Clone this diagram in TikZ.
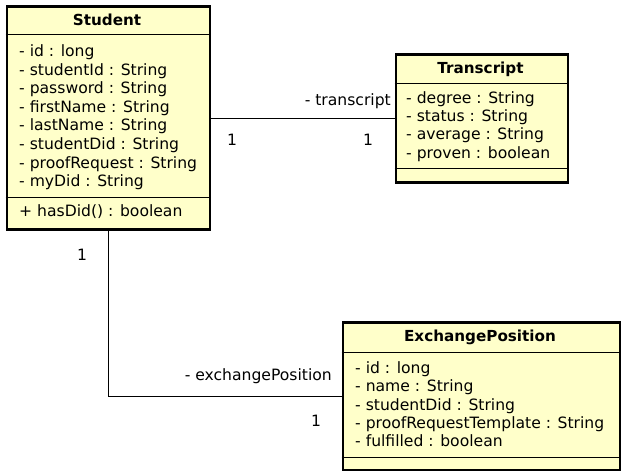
\documentclass[tikz,border=0pt]{standalone}
\usepackage{fontspec}
\setmainfont{DejaVu Sans}
\definecolor{umlfill}{HTML}{FFFFCA}
\tikzset{
  cls/.style={draw=black, line width=2.8pt, fill=umlfill, inner sep=0pt, anchor=north west},
  sep/.style={draw=black, line width=0.9pt},
  attr/.style={anchor=base west, inner sep=0pt, font=\fontsize{15.6}{18}\selectfont},
  ctitle/.style={anchor=base, inner sep=0pt, font=\fontsize{15.2}{18}\selectfont\bfseries},
  lbl/.style={inner sep=0pt, font=\fontsize{15.6}{18}\selectfont},
  assoc/.style={draw=black, line width=0.9pt}
}
\begin{document}
\begin{tikzpicture}[x=1pt,y=-1pt]
\useasboundingbox (0,0) rectangle (625,476);
% Student
\node[cls, minimum width=203pt, minimum height=223pt] (student) at (5.5,5.5) {};
\draw[sep] (5.5,34) -- (208.5,34);
\draw[sep] (5.5,197) -- (208.5,197);
\node[ctitle] (stitle) at (107,26) {Student};
\foreach \t [count=\i from 0] in {{- id : long},{- studentId : String},{- password : String},{- firstName : String},{- lastName : String},{- studentDid : String},{- proofRequest : String},{- myDid : String}}
  \node[attr] (sa\i) at (19,56.5+18.6*\i) {\t};
\node[attr] (sm0) at (19,216.5) {+ hasDid() : boolean};
% Transcript
\node[cls, minimum width=172pt, minimum height=128pt] (transcript) at (394.5,53.5) {};
\draw[sep] (394.5,83) -- (566.5,83);
\draw[sep] (394.5,168) -- (566.5,168);
\node[ctitle] (ttitle) at (480.5,73.3) {Transcript};
\foreach \t [count=\i from 0] in {{- degree : String},{- status : String},{- average : String},{- proven : boolean}}
  \node[attr] (ta\i) at (406,103.3+18.35*\i) {\t};
% ExchangePosition
\node[cls, minimum width=277pt, minimum height=147pt] (exch) at (341.5,321.5) {};
\draw[sep] (341.5,352) -- (618.5,352);
\draw[sep] (341.5,457) -- (618.5,457);
\node[ctitle] (etitle) at (480,341.7) {ExchangePosition};
\foreach \t [count=\i from 0] in {{- id : long},{- name : String},{- studentDid : String},{- proofRequestTemplate : String},{- fulfilled : boolean}}
  \node[attr] (ea\i) at (355,373.3+18.35*\i) {\t};
% associations
\draw[assoc] (student.east |- transcript.west) -- (transcript.west);
\draw[assoc] (student.south) |- (exch.west);
% labels
\node[lbl, anchor=base east] (l1) at (391,106) {- transcript};
\node[lbl, anchor=base] (l2) at (232,146) {1};
\node[lbl, anchor=base] (l3) at (368,146) {1};
\node[lbl, anchor=base] (l4) at (82,261) {1};
\node[lbl, anchor=base east] (l5) at (332,381) {- exchangePosition};
\node[lbl, anchor=base] (l6) at (316,427) {1};
\end{tikzpicture}
\end{document}
